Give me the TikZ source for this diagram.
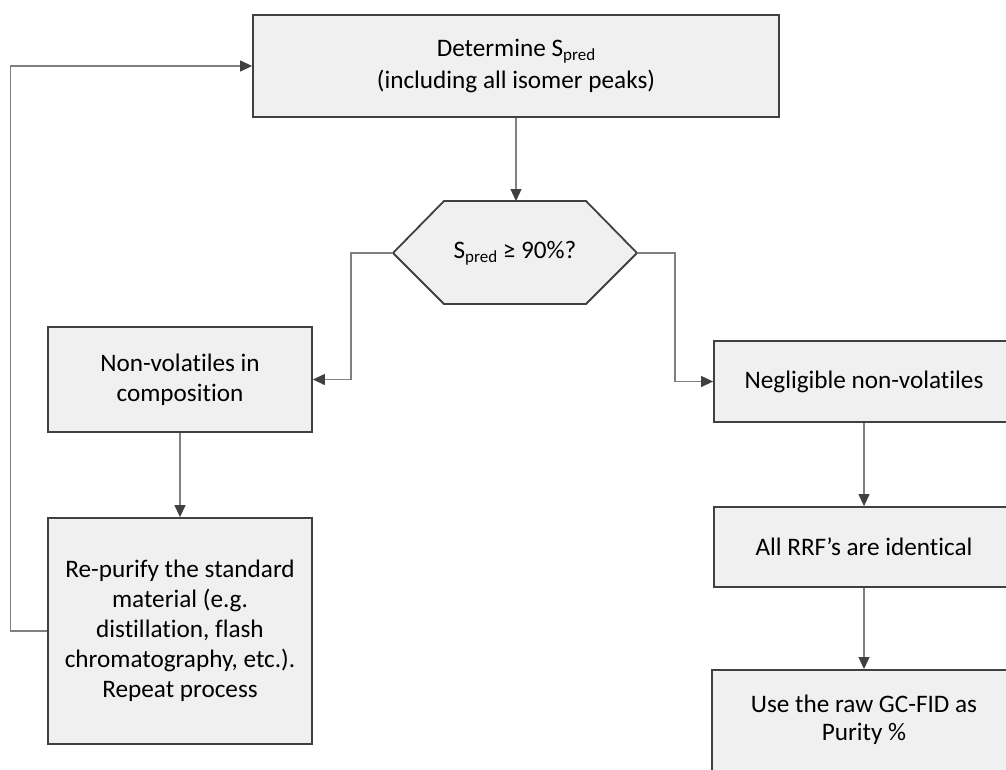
\documentclass[tikz,border=0pt]{standalone}
\usepackage{fontspec}
\setmainfont{Carlito}[Ligatures={NoCommon}]
\usetikzlibrary{arrows.meta}
\definecolor{boxfill}{HTML}{F0F0F0}
\definecolor{boxline}{HTML}{404040}
\definecolor{connline}{HTML}{808080}
\definecolor{tipc}{HTML}{404040}
\newcommand{\lowtxt}[1]{\raisebox{-0.35ex}{\fontsize{17}{17}\selectfont #1}}
\tikzset{
  procbox/.style={draw=boxline, fill=boxfill, line width=1.8pt, align=center,
    inner sep=0pt, font=\fontsize{25.2}{30}\selectfont, text=black},
  conn/.style={draw=connline, line width=1.2pt,
    -{Triangle[length=12pt,width=11pt,color=tipc]}},
  plainconn/.style={draw=connline, line width=1.2pt}
}
\begin{document}
\begin{tikzpicture}[x=1pt,y=-1pt]
\useasboundingbox (0,0) rectangle (1006,769);
\clip (0,0) rectangle (1006,769);
% top box
\node[procbox, minimum width=526pt, minimum height=102pt] (top) at (516,66)
  {Determine S\lowtxt{pred}\\[2pt](including all isomer peaks)};
% hexagon decision
\coordinate (hexL) at (393,253);
\coordinate (hexT) at (516,201);
\coordinate (hexR) at (637,253);
\filldraw[draw=boxline, fill=boxfill, line width=1.8pt, line join=miter]
  (hexL) -- (444,201) -- (586,201) -- (hexR) -- (586,304) -- (444,304) -- cycle;
\node[font=\fontsize{25.2}{30}\selectfont, inner sep=0pt] (hex) at (515,253)
  {S\lowtxt{pred} ≥ 90\%?};
% left branch
\node[procbox, minimum width=264pt, minimum height=105pt] (nonvol) at (180,379.5)
  {Non-volatiles in\\composition};
\node[procbox, minimum width=264pt, minimum height=226pt] (repur) at (180,631)
  {Re-purify the standard\\material (e.g.\\distillation, flash\\chromatography, etc.).\\Repeat process};
% right branch
\node[procbox, minimum width=300pt, minimum height=81pt] (negl) at (864,381.5)
  {Negligible non-volatiles};
\node[procbox, minimum width=300pt, minimum height=80pt] (rrf) at (864,547)
  {All RRF’s are identical};
\node[procbox, minimum width=303pt, minimum height=106pt, anchor=north west] (useraw) at (711,669)
  {};
\node[font=\fontsize{25.2}{28}\selectfont, align=center, inner sep=0pt] (usetxt) at (864,720)
  {Use the raw GC-FID as\\Purity \%};
% connectors
\draw[conn] (top.south -| hexT) -- (hexT);
\draw[conn] (hexL) -- ++(-42,0) |- (nonvol.east);
\draw[conn] (hexR) -- ++(38,0) |- (negl.west);
\draw[conn] (nonvol.south) -- (repur.north);
\draw[conn] (repur.west) -- ++(-37,0) |- (top.west);
\draw[conn] (negl.south) -- (rrf.north);
\draw[conn] (rrf.south) -- (rrf.south |- useraw.north);
\end{tikzpicture}
\end{document}
